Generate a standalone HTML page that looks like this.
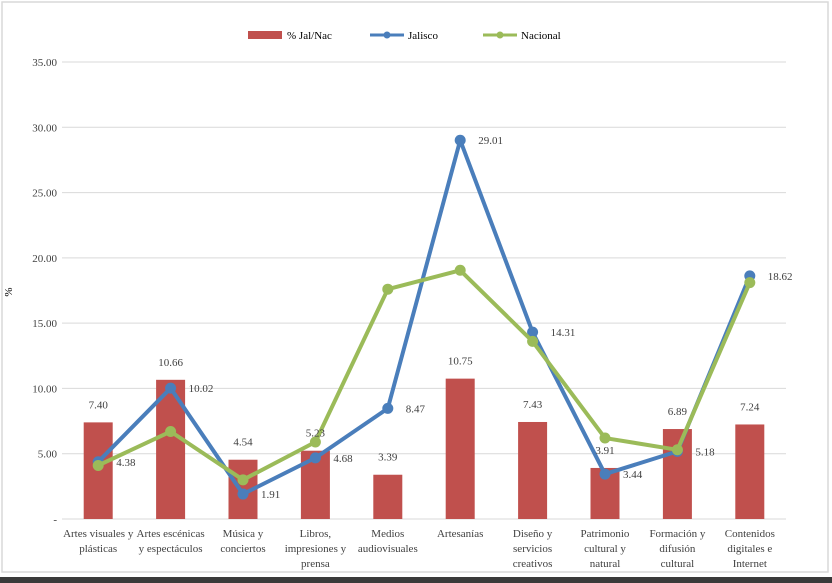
<!DOCTYPE html>
<html><head><meta charset="utf-8"><style>
body{margin:0;background:#fff;}
svg{display:block;font-family:"Liberation Serif",serif;}
</style></head><body>
<svg id="chart" width="832" height="583">
<rect x="2" y="2" width="826" height="570" fill="#fff" stroke="#d9d9d9" stroke-width="1.5"/>
<rect x="0" y="577" width="832" height="6" fill="#3a3a3a"/>
<g id="grid"></g><g id="bars"></g><g id="lines"></g><g id="labels"></g>
<g>
<rect x="248" y="31" width="34" height="8" fill="#c0504d"/>
<text x="287" y="39" font-size="11">% Jal/Nac</text>
<line x1="370" y1="35" x2="404" y2="35" stroke="#4a7ebb" stroke-width="3"/>
<circle cx="387" cy="35" r="3.5" fill="#4a7ebb"/>
<text x="408" y="39" font-size="11">Jalisco</text>
<line x1="483" y1="35" x2="517" y2="35" stroke="#9bbb59" stroke-width="3"/>
<circle cx="500" cy="35" r="3.5" fill="#9bbb59"/>
<text x="521" y="39" font-size="11">Nacional</text>
</g>
<text x="12" y="292" font-size="11" transform="rotate(-90 12 292)" text-anchor="middle">%</text>
</svg>
<script>
const categories=[["Artes visuales y","plásticas"],["Artes escénicas","y espectáculos"],["Música y","conciertos"],["Libros,","impresiones y","prensa"],["Medios","audiovisuales"],["Artesanías"],["Diseño y","servicios","creativos"],["Patrimonio","cultural y","natural"],["Formación y","difusión","cultural"],["Contenidos","digitales e","Internet"]];
const ratio=[7.40,10.66,4.54,5.23,3.39,10.75,7.43,3.91,6.89,7.24];
const jalisco=[4.38,10.02,1.91,4.68,8.47,29.01,14.31,3.44,5.18,18.62];
const nacional=[4.1,6.7,3.0,5.9,17.6,19.05,13.6,6.2,5.3,18.1];
const yTicks=[0,5,10,15,20,25,30,35];
const NS="http://www.w3.org/2000/svg";
const L=62,R=786,T=62,B=519,ymax=35;
const x=i=>L+(R-L)/categories.length*(i+0.5);
const y=v=>B-(B-T)*v/ymax;
function mk(tag,attrs,parent,txt){const e=document.createElementNS(NS,tag);for(const k in attrs)e.setAttribute(k,attrs[k]);if(txt!==undefined)e.textContent=txt;document.getElementById(parent).appendChild(e);return e;}
yTicks.forEach(t=>{
 const g=mk('line',{x1:L,x2:R,y1:y(t),y2:y(t),stroke:'#d9d9d9','stroke-width':1},'grid');
 
 
 const tx=mk('text',{x:57,y:y(t)+4,'font-size':11,'text-anchor':'end',fill:'#404040'},'grid',t===0?'-':t.toFixed(2));
 
 
});
categories.forEach((c,i)=>{
 c.forEach((ln,j)=>{
  const t=mk('text',{x:x(i),y:537+j*15,'font-size':11,'text-anchor':'middle',fill:'#404040'},'labels',ln);
  
  
 });
});
ratio.forEach((v,i)=>{
 const r=mk('rect',{x:x(i)-14.5,y:y(v),width:29,height:B-y(v),fill:'#c0504d'},'bars');
 
 
 const t=mk('text',{x:x(i),y:y(v)-14,'font-size':11,'text-anchor':'middle',fill:'#404040'},'labels',v.toFixed(2));
 
 
});
function series(vals,color,name){
 const p=mk('polyline',{points:vals.map((v,i)=>x(i)+','+y(v)).join(' '),fill:'none',stroke:color,'stroke-width':4,'stroke-linejoin':'round'},'lines');
 
 
 vals.forEach((v,i)=>{
  const c=mk('circle',{cx:x(i),cy:y(v),r:5.5,fill:color},'lines');
  
  
 });
}
series(jalisco,'#4a7ebb','jalisco');
series(nacional,'#9bbb59','nacional');
jalisco.forEach((v,i)=>{
 const t=mk('text',{x:x(i)+18,y:y(v)+4,'font-size':11,fill:'#404040'},'labels',v.toFixed(2));
 
 
});
</script>
</body></html>
